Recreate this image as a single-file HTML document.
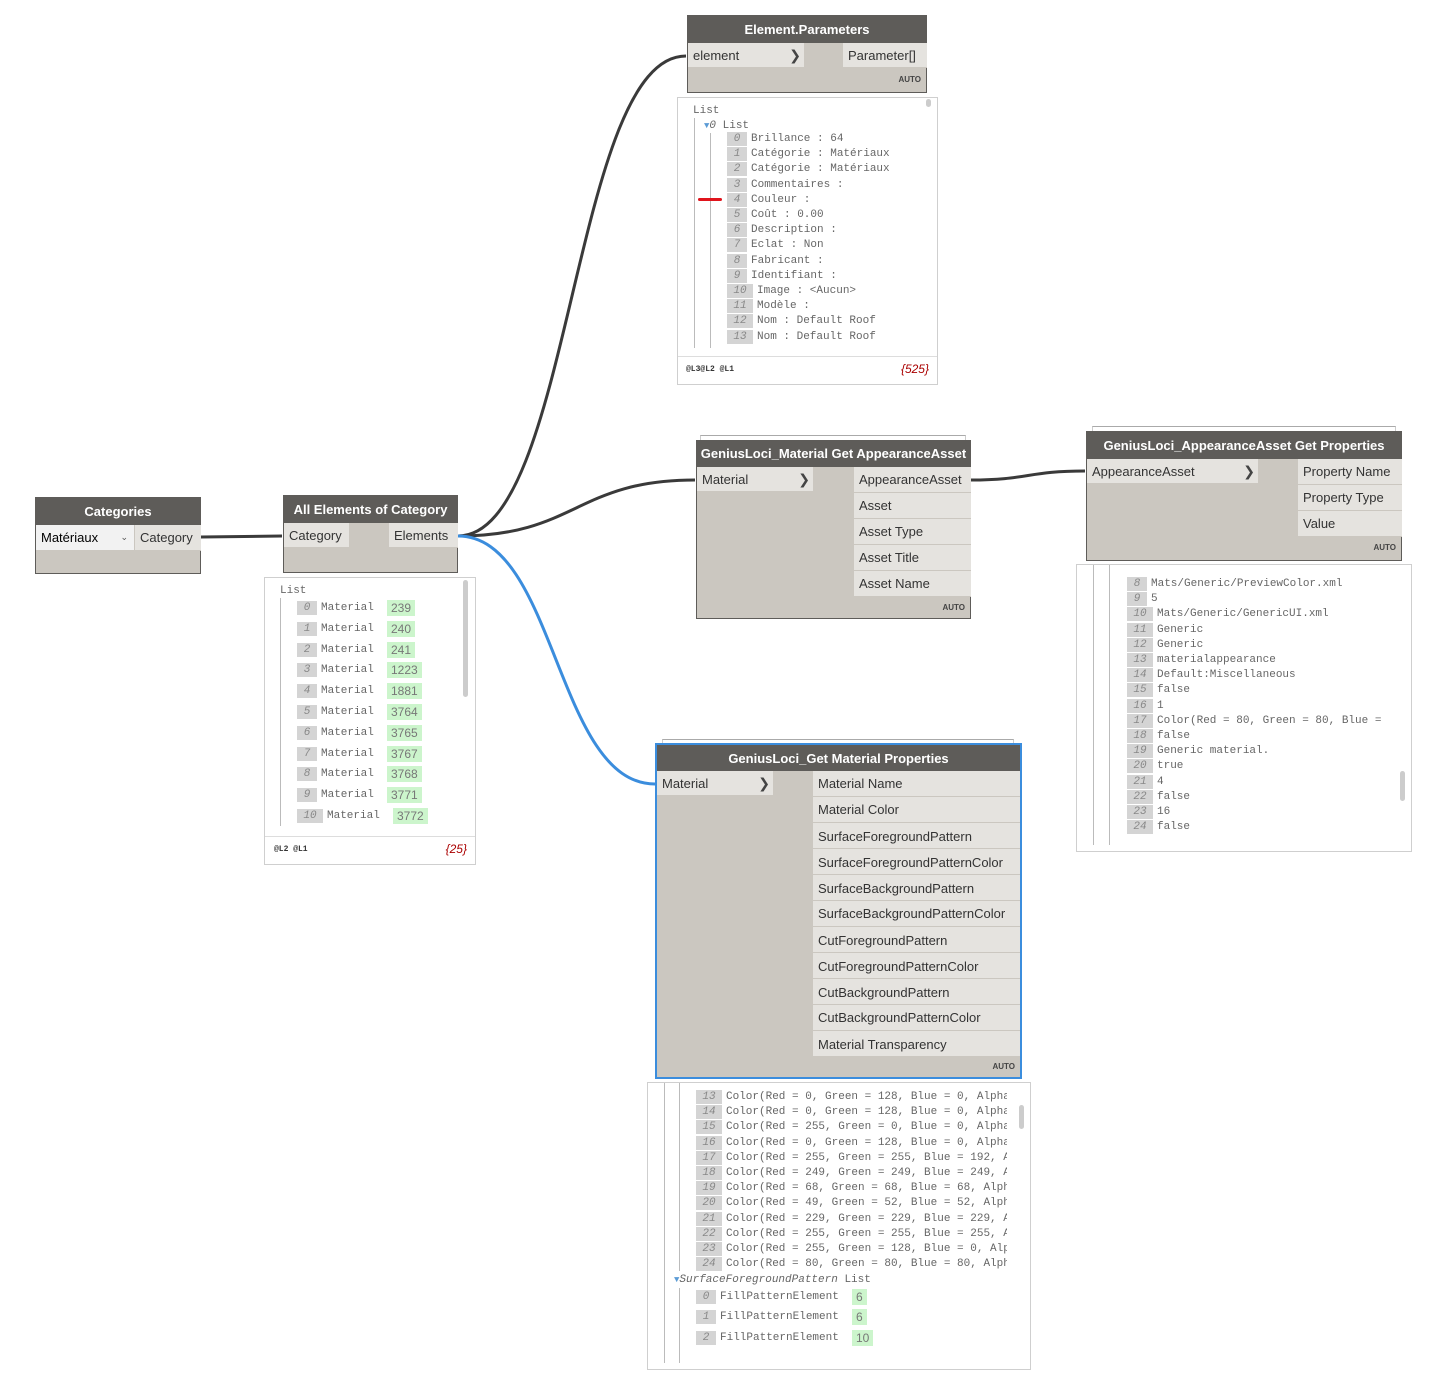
<!DOCTYPE html>
<html><head><meta charset="utf-8"><style>
*{box-sizing:border-box;margin:0;padding:0}
body{width:1438px;height:1400px;background:#fff;position:relative;overflow:hidden;font-family:"Liberation Sans","DejaVu Sans",sans-serif}
.a{position:absolute}
.node{position:absolute;background:#cbc7c0;border:1px solid #5e5c59}
.hd{position:absolute;left:0;right:0;top:0;background:#5e5c59;color:#fff;font-weight:bold;font-size:13px;text-align:center;white-space:nowrap}
.port{position:absolute;background:#e5e3df;color:#333;font-size:13px;padding-left:5px;white-space:nowrap;border-bottom:1px solid #cbc7c0}
.chev{position:absolute;right:3px;top:0;font-weight:bold;color:#444;font-size:14px}
.auto{position:absolute;right:5px;font-size:8px;font-weight:bold;color:#444}
.stack{position:absolute;border-top:1px solid #aaa;border-left:1px solid #ccc;border-right:1px solid #ccc;height:6px}
.pv{position:absolute;border:1px solid #cfcfcf;background:#fff;overflow:hidden}
.foot{position:absolute;left:0;right:0;bottom:0;height:28px;border-top:1px solid #ddd;font-family:"Liberation Mono",monospace}
.r{position:absolute;font-family:"Liberation Mono","DejaVu Sans Mono",monospace;font-size:11px;color:#666;white-space:nowrap;line-height:14px;height:14px;overflow:hidden}
.i{display:inline-block;background:#d4d4d4;color:#888;font-style:italic;text-align:center;margin-right:4px}
.g{position:absolute;background:#ccf5cc;color:#777;font-family:"Liberation Sans",sans-serif;font-size:12px;padding:0 4px;line-height:16px}
.vl{position:absolute;width:1px;background:#bbb}
.sb{position:absolute;width:5px;background:#ccc;border-radius:3px}
</style></head><body>

<svg class="a" style="left:0;top:0" width="1438" height="1400">
<g fill="none" stroke-width="3">
<path d="M201 537 L282 536" stroke="#3a3a3a"/>
<path d="M458 536 C572 536 572 56 686 56" stroke="#3a3a3a"/>
<path d="M458 536 C576 536 576 480 695 480" stroke="#3a3a3a"/>
<path d="M458 536 C556 536 556 784 655 784" stroke="#3b8ddd"/>
<path d="M971 480 C1028 480 1028 471 1085 471" stroke="#3a3a3a"/>
</g>
</svg>

<!-- Categories -->
<div class="node" style="left:35px;top:497px;width:166px;height:77px">
<div class="hd" style="height:27px;line-height:27px">Categories</div>
<div class="a" style="left:0;top:27px;width:98px;height:25px;background:#f2f2f2;font-size:13px;line-height:25px;padding-left:5px;color:#000">Matériaux<span class="a" style="right:6px;font-size:9px;color:#555">⌄</span></div>
<div class="port" style="left:99px;top:27px;width:66px;height:26px;line-height:26px">Category</div>
</div>

<!-- All Elements -->
<div class="node" style="left:283px;top:495px;width:175px;height:78px">
<div class="hd" style="height:27px;line-height:27px">All Elements of Category</div>
<div class="port" style="left:0;top:27px;width:65px;height:25px;line-height:25px">Category</div>
<div class="port" style="left:105px;top:27px;width:69px;height:25px;line-height:25px">Elements</div>
</div>
<div class="pv" style="left:264px;top:577px;width:212px;height:288px">
<div class="r" style="left:15px;top:6px">List</div>
<div class="vl" style="left:15px;top:20px;height:228px"></div>
<div class="sb" style="left:198px;top:2px;height:117px"></div>
<div class="foot"><span class="a" style="left:9px;top:8px;font-size:8px;font-weight:bold;color:#333">@L2 @L1</span><span class="a" style="right:8px;top:5px;font-size:12px;font-style:italic;color:#a00;font-family:'Liberation Sans'">{25}</span></div>
</div>

<!-- Element.Parameters -->
<div class="node" style="left:687px;top:15px;width:240px;height:78px">
<div class="hd" style="height:27px;line-height:27px">Element.Parameters</div>
<div class="port" style="left:0;top:27px;width:116px;height:25px;line-height:25px">element<span class="chev">❯</span></div>
<div class="port" style="left:155px;top:27px;width:84px;height:25px;line-height:25px">Parameter[]</div>
<div class="auto" style="top:59px">AUTO</div>
</div>
<div class="pv" style="left:677px;top:97px;width:261px;height:288px">
<div class="r" style="left:15px;top:6px">List</div>
<div class="vl" style="left:16px;top:20px;height:230px"></div>
<div class="vl" style="left:32px;top:35px;height:215px"></div>
<div class="r" style="left:26px;top:21px"><span style="color:#5b9bd5;font-size:9px">▼</span><i>0</i> List</div>
<div class="sb" style="left:248px;top:1px;height:8px"></div>
<div class="foot"><span class="a" style="left:8px;top:8px;font-size:8px;font-weight:bold;color:#333">@L3@L2 @L1</span><span class="a" style="right:8px;top:5px;font-size:12px;font-style:italic;color:#a00;font-family:'Liberation Sans'">{525}</span></div>
</div>
<div class="a" style="left:698px;top:198px;width:24px;height:3px;background:#e0141c;border-radius:2px"></div>

<!-- Get AppearanceAsset -->
<div class="stack" style="left:700px;top:435px;width:266px"></div>
<div class="node" style="left:696px;top:440px;width:275px;height:179px">
<div class="hd" style="height:26px;line-height:26px">GeniusLoci_Material Get AppearanceAsset</div>
<div class="port" style="left:0;top:26px;width:116px;height:25px;line-height:25px">Material<span class="chev">❯</span></div>
<div class="port" style="left:157px;top:26px;width:117px;height:26px;line-height:26px">AppearanceAsset</div>
<div class="port" style="left:157px;top:52px;width:117px;height:26px;line-height:26px">Asset</div>
<div class="port" style="left:157px;top:78px;width:117px;height:26px;line-height:26px">Asset Type</div>
<div class="port" style="left:157px;top:104px;width:117px;height:26px;line-height:26px">Asset Title</div>
<div class="port" style="left:157px;top:130px;width:117px;height:26px;line-height:26px">Asset Name</div>
<div class="auto" style="top:162px">AUTO</div>
</div>

<!-- AppearanceAsset Get Properties -->
<div class="stack" style="left:1092px;top:426px;width:304px"></div>
<div class="node" style="left:1086px;top:431px;width:316px;height:130px">
<div class="hd" style="height:27px;line-height:27px">GeniusLoci_AppearanceAsset Get Properties</div>
<div class="port" style="left:0;top:27px;width:171px;height:25px;line-height:25px">AppearanceAsset<span class="chev">❯</span></div>
<div class="port" style="left:211px;top:27px;width:104px;height:26px;line-height:26px">Property Name</div>
<div class="port" style="left:211px;top:53px;width:104px;height:26px;line-height:26px">Property Type</div>
<div class="port" style="left:211px;top:79px;width:104px;height:26px;line-height:26px">Value</div>
<div class="auto" style="top:111px">AUTO</div>
</div>
<div class="pv" style="left:1076px;top:564px;width:336px;height:288px">
<div class="vl" style="left:16px;top:0;height:280px"></div>
<div class="vl" style="left:32px;top:0;height:280px"></div>
<div class="sb" style="left:323px;top:206px;height:30px"></div>
</div>

<!-- Get Material Properties -->
<div class="stack" style="left:662px;top:739px;width:352px"></div>
<div class="node" style="left:655px;top:743px;width:367px;height:336px;border:2px solid #3b8ddd">
<div class="hd" style="height:26px;line-height:28px">GeniusLoci_Get Material Properties</div>
<div class="port" style="left:0;top:26px;width:116px;height:25px;line-height:25px">Material<span class="chev">❯</span></div>
<div class="port" style="left:156px;top:26px;width:207px;height:26px;line-height:26px">Material Name</div>
<div class="port" style="left:156px;top:52px;width:207px;height:26px;line-height:26px">Material Color</div>
<div class="port" style="left:156px;top:78px;width:207px;height:26px;line-height:28px">SurfaceForegroundPattern</div>
<div class="port" style="left:156px;top:104px;width:207px;height:26px;line-height:28px">SurfaceForegroundPatternColor</div>
<div class="port" style="left:156px;top:130px;width:207px;height:26px;line-height:28px">SurfaceBackgroundPattern</div>
<div class="port" style="left:156px;top:156px;width:207px;height:26px;line-height:26px">SurfaceBackgroundPatternColor</div>
<div class="port" style="left:156px;top:182px;width:207px;height:26px;line-height:28px">CutForegroundPattern</div>
<div class="port" style="left:156px;top:208px;width:207px;height:26px;line-height:28px">CutForegroundPatternColor</div>
<div class="port" style="left:156px;top:234px;width:207px;height:26px;line-height:28px">CutBackgroundPattern</div>
<div class="port" style="left:156px;top:260px;width:207px;height:26px;line-height:26px">CutBackgroundPatternColor</div>
<div class="port" style="left:156px;top:286px;width:207px;height:26px;line-height:28px">Material Transparency</div>
<div class="auto" style="top:317px">AUTO</div>
</div>
<div class="pv" style="left:647px;top:1082px;width:384px;height:288px">
<div class="vl" style="left:16px;top:0;height:280px"></div>
<div class="vl" style="left:31px;top:0;height:188px"></div>
<div class="vl" style="left:31px;top:205px;height:75px"></div>
<div class="sb" style="left:371px;top:22px;height:24px"></div>
<div class="r" style="left:26px;top:190px;font-style:italic"><span style="color:#5b9bd5;font-size:9px;font-style:normal">▼</span>SurfaceForegroundPattern <span style="font-style:normal">List</span></div>
</div>

<div id="rows"></div>
<script>
function add(h){document.getElementById('rows').insertAdjacentHTML('beforeend',h);}
function row(x,y,idx,w,txt,mw){add('<div class="r" style="left:'+x+'px;top:'+(y-7)+'px;'+(mw?'width:'+mw+'px;':'')+'"><span class="i" style="width:'+w+'px">'+idx+'</span>'+txt+'</div>');}
var ep=["Brillance : 64","Catégorie : Matériaux","Catégorie : Matériaux","Commentaires :","Couleur :","Coût : 0.00","Description :","Eclat : Non","Fabricant :","Identifiant :","Image : &lt;Aucun&gt;","Modèle :","Nom : Default Roof","Nom : Default Roof"];
ep.forEach(function(t,k){row(727,139+k*15.2,k,k>=10?26:20,t);});
var ids=[239,240,241,1223,1881,3764,3765,3767,3768,3771,3772];
ids.forEach(function(v,k){var y=608+k*20.8;var big=k==10;row(297,y,k,big?26:20,'Material');
add('<div class="g" style="left:'+(big?393:387)+'px;top:'+(y-8)+'px">'+v+'</div>');});
var ap=["Mats/Generic/PreviewColor.xml","5","Mats/Generic/GenericUI.xml","Generic","Generic","materialappearance","Default:Miscellaneous","false","1","Color(Red = 80, Green = 80, Blue = 8","false","Generic material.","true","4","false","16","false"];
ap.forEach(function(t,k){var n=k+8;row(1127,584+k*15.2,n,n>=10?26:20,t,260);});
var mc=["Color(Red = 0, Green = 128, Blue = 0, Alpha","Color(Red = 0, Green = 128, Blue = 0, Alpha","Color(Red = 255, Green = 0, Blue = 0, Alpha","Color(Red = 0, Green = 128, Blue = 0, Alpha","Color(Red = 255, Green = 255, Blue = 192, A","Color(Red = 249, Green = 249, Blue = 249, A","Color(Red = 68, Green = 68, Blue = 68, Alph","Color(Red = 49, Green = 52, Blue = 52, Alph","Color(Red = 229, Green = 229, Blue = 229, A","Color(Red = 255, Green = 255, Blue = 255, A","Color(Red = 255, Green = 128, Blue = 0, Alp","Color(Red = 80, Green = 80, Blue = 80, Alph"];
mc.forEach(function(t,k){row(696,1097+k*15.2,k+13,26,t,311);});
[[0,6,1297],[1,6,1317],[2,10,1338]].forEach(function(a){row(696,a[2],a[0],20,'FillPatternElement');add('<div class="g" style="left:852px;top:'+(a[2]-8)+'px">'+a[1]+'</div>');});
</script>
</body></html>
